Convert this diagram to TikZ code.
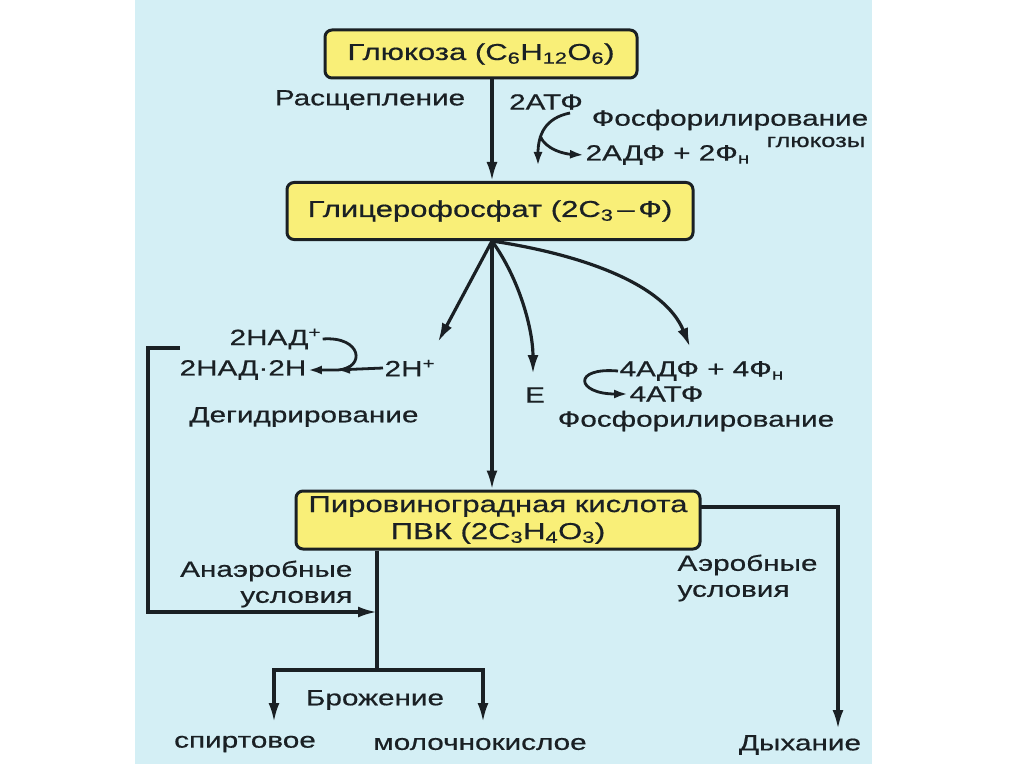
\documentclass[tikz,border=0pt]{standalone}
\usepackage{fontspec}
\setmainfont{Liberation Sans}[FakeStretch=1.35,FakeBold=0.6]
\usetikzlibrary{arrows.meta}

\definecolor{bgblue}{RGB}{212,239,245}
\definecolor{boxyellow}{RGB}{249,239,120}
\definecolor{ink}{RGB}{26,32,36}

\begin{document}
\begin{tikzpicture}[x=1pt,y=-1pt,line width=3.2pt,every node/.style={text=ink,inner sep=0,font=\fontsize{22}{26}\selectfont}]

\tikzstyle{bordered} = [draw=ink,fill=boxyellow,rounded corners=7pt,line width=3pt,font=\fontsize{23}{27}\selectfont];
\tikzstyle{boldarrow}=[draw=ink,-{Latex[length=19pt,width=11pt]},line width=3.2pt];
\tikzstyle{thinarrow}=[draw=ink,-{Latex[length=14pt,width=9pt]},line width=2.8pt];

\useasboundingbox (0,0) rectangle (1024,767);
\fill[bgblue] (135,0) rectangle (872,764);

% boxes
\node[bordered,minimum width=312,minimum height=48] (v1) at (481,54) {Глюкоза (C\textsubscript{6}H\textsubscript{12}O\textsubscript{6})};
\node[bordered,minimum width=406,minimum height=57] (v2) at (490,211) {Глицерофосфат (2C\textsubscript{3}\,--\,Ф)};
\node[bordered,minimum width=404,minimum height=58,align=center] (v3) at (498,520) {Пировиноградная кислота\\ПВК (2C\textsubscript{3}H\textsubscript{4}O\textsubscript{3})};

% labels
\node (v4) at (370,100) {Расщепление};
\node (v5) at (546,102) {2АТФ};
\node (v6) at (730,120) {Фосфорилирование};
\node[font=\fontsize{19}{19}\selectfont] (v7) at (816,142) {глюкозы};
\node[anchor=west] (v8) at (584,155) {2АДФ + 2Ф\textsubscript{н}};
\node[anchor=west] (v9) at (228,339) {2НАД\textsuperscript{+}};
\node[anchor=west] (v10) at (178,370) {2НАД·2Н};
\node[anchor=west] (v11) at (383,368) {2Н\textsuperscript{+}};
\node (v12) at (304,417) {Дегидрирование};
\node (v13) at (535,395) {Е};
\node[anchor=west] (v14) at (618,371) {4АДФ + 4Ф\textsubscript{н}};
\node[anchor=west] (v15) at (628,394) {4АТФ};
\node (v16) at (696,421) {Фосфорилирование};
\node[anchor=east,align=right] (v17) at (354,584) {Анаэробные\\условия};
\node[anchor=west,align=left] (v18) at (676,578) {Аэробные\\условия};
\node (v19) at (375,700) {Брожение};
\node (v20) at (245,744) {спиртовое};
\node (v21) at (480,744) {молочнокислое};
\node (v22) at (800,745) {Дыхание};

% points
\coordinate (f1) at (492,241);
\coordinate (t1) at (438,342);
\coordinate (t2) at (533,374);
\coordinate (t3) at (690,347);
\coordinate (c1) at (180,348);
\coordinate (c3) at (148,612);
\coordinate (c2) at (377,612);
\coordinate (c4) at (377,670);
\coordinate (t4) at (274,722);
\coordinate (t5) at (483,722);
\coordinate (c5) at (700,507);
\coordinate (t6) at (838,729);

\draw[boldarrow] (v1.south -| f1) -- (v2.north -| f1);
\draw[thinarrow] (570,113) .. controls (545,118) and (538,135) .. (538,166);
\draw[thinarrow] (540,136) .. controls (546,150) and (565,154) .. (v8.west);

\draw[boldarrow] (f1) -- (t1);
\draw[boldarrow] (f1) -- (v3.north -| f1);
\draw[boldarrow] (f1) .. controls (520,280) and (533,330) .. (t2);
\draw[boldarrow] (f1) .. controls (585,255) and (665,285) .. (t3);

\draw[thinarrow] (v9.east) .. controls (362,336) and (366,368) .. (338,370) -- (v10.east);
\draw[thinarrow] (v11.west) -- (336,370);
\draw[thinarrow] (v14.west) .. controls (572,367) and (576,394) .. (v15.west);

\draw[boldarrow] (c1) -| (c3) -- (c2);
\draw[line width=3.2pt,draw=ink] (v3.south -| c4) -- (c4);
\draw[boldarrow] (c4) -| (t4);
\draw[boldarrow] (c4) -| (t5);
\draw[boldarrow] (c5) -| (t6);
\end{tikzpicture}
\end{document}
